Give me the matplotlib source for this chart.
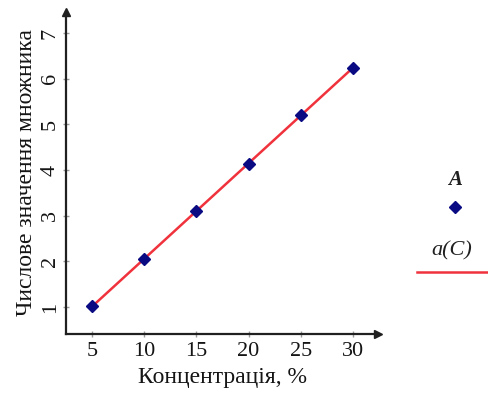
import matplotlib.pyplot as plt
from matplotlib.lines import Line2D
import numpy as np

plt.rcParams['font.family'] = ['Liberation Serif', 'DejaVu Serif']

# data
conc = [5, 10, 15, 20, 25, 30]
a_vals = [1.02, 2.05, 3.10, 4.14, 5.20, 6.24]
xticks = [5, 10, 15, 20, 25, 30]
yticks = [1, 2, 3, 4, 5, 6, 7]

# linear fit a(C)
k, b = np.polyfit(conc, a_vals, 1)
c_fit = np.array([conc[0], conc[-1]])
a_fit = k * c_fit + b

fig = plt.figure(figsize=(4.89, 3.99), dpi=100)
ax = fig.add_axes([0.135, 0.163, 0.638, 0.807])

ax.plot(c_fit, a_fit, color='#f0323c', lw=1.8, zorder=2)
ax.plot(conc, a_vals, 'D', color='#0a0a82', ms=6.5, zorder=3)

ax.set_xlim(2.5, 32.4)
ax.set_ylim(0.41, 7.46)
ax.set_xticks(xticks)
ax.set_yticks(yticks)

for s in ['top', 'right']:
    ax.spines[s].set_visible(False)
for s in ['left', 'bottom']:
    ax.spines[s].set_linewidth(1.6)
    ax.spines[s].set_color('#202020')

# arrow heads at axis ends
ax.plot(1, 0, '>', color='#202020', ms=6, transform=ax.transAxes, clip_on=False)
ax.plot(0, 1, '^', color='#202020', ms=6, transform=ax.transAxes, clip_on=False)

ax.tick_params(direction='inout', length=5, width=1, color='#999999',
               labelsize=16, labelcolor='#151515')
ax.tick_params(axis='y', labelrotation=90, pad=2)
for t in ax.get_yticklabels():
    t.set_va('center')

ax.set_xlabel('Концентрація, %', fontsize=17, labelpad=4, color='#151515')
ax.set_ylabel('Числове значення множника', fontsize=17, labelpad=3,
              color='#151515')

# legend at the right
fig.text(455 / 489, 1 - 180 / 399, 'A', fontsize=15, style='italic',
         fontweight='bold', ha='center', va='center', color='#202020')
fig.add_artist(Line2D([455 / 489], [1 - 207 / 399], marker='D', ms=6.5,
                      color='#0a0a82', ls='none'))
fig.text(452 / 489, 1 - 251 / 399, 'a(C)', fontsize=16, style='italic',
         ha='center', va='center', color='#202020')
fig.add_artist(Line2D([417 / 489, 1.0], [1 - 272 / 399, 1 - 272 / 399],
                      color='#f0323c', lw=1.8))

fig.savefig('out.png', dpi=100)
